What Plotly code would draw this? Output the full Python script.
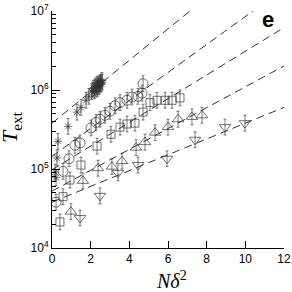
import numpy as np
import plotly.graph_objects as go

# ---- data ----
star_x = [0.21, 0.16, 0.26, 0.31, 0.83, 1.29, 1.50, 1.76, 1.91,
          2.05, 2.10, 2.15, 2.20, 2.20, 2.25, 2.28, 2.30, 2.32, 2.35,
          2.38, 2.40, 2.42, 2.45, 2.48, 2.50, 2.52, 2.55, 2.58, 2.60]
star_logT = [4.89, 4.96, 5.14, 5.35, 5.54, 5.72, 5.78, 5.87, 5.92,
             5.98, 6.00, 6.02, 5.99, 6.03, 6.05, 6.01, 6.04, 6.07, 6.02,
             6.06, 6.04, 6.08, 6.05, 6.09, 6.07, 6.10, 6.08, 6.12, 6.10]

circ_x = [0.21, 0.57, 0.88, 1.19, 1.45, 2.02, 2.28, 2.48, 2.74, 3.00,
          3.26, 3.52, 3.88, 4.14, 4.45, 4.66, 4.71]
circ_logT = [4.58, 4.97, 5.13, 5.30, 5.33, 5.52, 5.59, 5.63, 5.68, 5.73,
             5.80, 5.84, 5.87, 5.91, 5.92, 5.96, 6.08]

sq_x = [0.41, 0.57, 0.93, 1.50, 2.33, 3.05, 3.52, 3.88, 4.29, 4.71,
        5.07, 5.43, 5.85, 6.21, 6.62]
sq_logT = [4.33, 4.65, 4.86, 5.05, 5.29, 5.44, 5.53, 5.57, 5.58, 5.72,
           5.84, 5.87, 5.87, 5.87, 5.90]

tu_x = [0.98, 1.60, 2.38, 3.10, 3.62, 4.35, 4.81, 5.33, 6.00, 6.52, 7.24, 7.76]
tu_logT = [4.46, 4.85, 5.01, 5.03, 5.10, 5.27, 5.34, 5.46, 5.53, 5.63, 5.66, 5.68]

td_x = [1.45, 2.48, 3.41, 4.45, 5.95, 7.40, 8.95, 9.98]
td_logT = [4.38, 4.66, 4.95, 5.05, 5.13, 5.37, 5.53, 5.58]

# dashed guide lines: log10(T) = intercept + slope * x
line_intercepts = [5.58, 5.16, 4.99, 4.72, 4.58]
line_slopes = [0.199, 0.177, 0.150, 0.132, 0.100]

err_log = 0.1  # half-length of error bars in decades

y_tickvals = [1e4, 1e5, 1e6, 1e7]
y_ticktext = ["10<sup>4</sup>", "10<sup>5</sup>", "10<sup>6</sup>", "10<sup>7</sup>"]
x_tickvals = [0, 2, 4, 6, 8, 10, 12]

W, H = 292, 292
L, R, T, B = 52, 8, 11, 44
PW, PH = W - L - R, H - T - B

fig = go.Figure()

xx = np.linspace(0, 12, 200)
for a, b in zip(line_intercepts, line_slopes):
    fig.add_trace(go.Scatter(x=xx, y=10 ** (a + b * xx), mode="lines",
                             line=dict(color="#333", width=1, dash="8px,5px"),
                             hoverinfo="skip", showlegend=False))


def add_series(xs, logs, symbol, size):
    ys = 10 ** np.array(logs)
    plus = ys * (10 ** err_log - 1)
    minus = ys * (1 - 10 ** (-err_log))
    fig.add_trace(go.Scatter(
        x=xs, y=ys, mode="markers",
        marker=dict(symbol=symbol, size=size, color="#333",
                    line=dict(color="#333", width=0.7)),
        error_y=dict(type="data", symmetric=False, array=plus, arrayminus=minus,
                     color="#444", thickness=0.7, width=1.5),
        showlegend=False))


add_series(star_x, star_logT, "asterisk-open", 7)
add_series(circ_x, circ_logT, "circle-open", 10)
add_series(sq_x, sq_logT, "square-open", 8)
add_series(tu_x, tu_logT, "triangle-up-open", 10)
add_series(td_x, td_logT, "triangle-down-open", 10)

minor_vals = [m * 10 ** e for e in (4, 5, 6) for m in range(2, 10)]


def px(xp, yp):
    return (xp - L) / PW, 1 - (yp - T) / PH


ex, ey = px(268, 20)
tx, ty = px(171, 280)
yx, yy = px(11, 127)

fig.update_layout(
    width=W, height=H,
    margin=dict(l=L, r=R, t=T, b=B),
    paper_bgcolor="white", plot_bgcolor="white",
    font=dict(family="Liberation Sans, Arial", size=12, color="black"),
    xaxis=dict(range=[0, 12], tickvals=x_tickvals, ticks="inside", ticklen=7,
               tickcolor="black", showline=True, linecolor="black", linewidth=1,
               showgrid=False, zeroline=False, mirror=False, automargin=False,
               tickfont=dict(size=12)),
    yaxis=dict(type="log", range=[4, 7], tickvals=y_tickvals, ticktext=y_ticktext,
               ticks="inside", ticklen=8, tickcolor="black",
               minor=dict(tickvals=minor_vals, ticks="inside", ticklen=4, tickcolor="black"),
               showline=True, linecolor="black", linewidth=1,
               showgrid=False, zeroline=False, mirror=False, automargin=False,
               tickfont=dict(size=12)),
    annotations=[
        dict(text="<b>e</b>", x=ex, y=ey, xref="paper", yref="paper",
             xanchor="center", yanchor="middle", showarrow=False,
             font=dict(family="Liberation Sans, Arial", size=22)),
        dict(text="<i>N</i><i>δ</i><sup>2</sup>", x=tx, y=ty, xref="paper", yref="paper",
             xanchor="center", yanchor="middle", showarrow=False,
             font=dict(family="Liberation Serif", size=20)),
        dict(text="<i>T</i><sub>ext</sub>", x=yx, y=yy, xref="paper", yref="paper",
             xanchor="center", yanchor="middle", showarrow=False, textangle=-90,
             font=dict(family="Liberation Serif", size=22)),
    ],
)

fig.write_html("out.html", config={"displayModeBar": False},
               post_script="document.body.style.margin='0';document.body.style.overflow='hidden';")
